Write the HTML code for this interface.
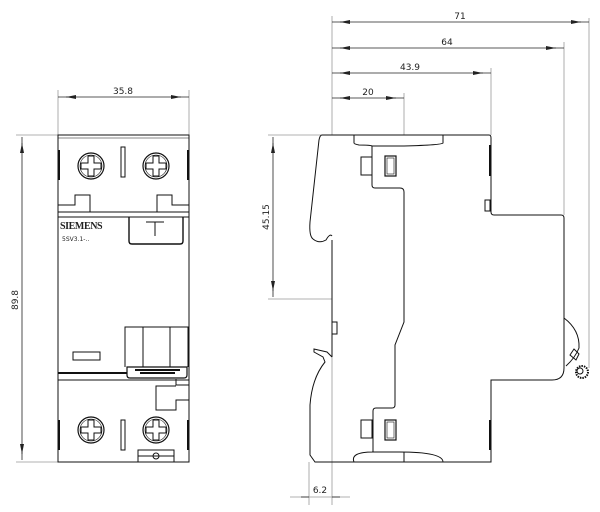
<!DOCTYPE html>
<html><head><meta charset="utf-8"><style>
html,body{margin:0;padding:0;background:#fff;}
svg{display:block;}
text{font-family:"DejaVu Sans","Liberation Sans",sans-serif;font-size:9px;fill:#222;}
</style></head><body>
<svg width="600" height="512" viewBox="0 0 600 512" xmlns="http://www.w3.org/2000/svg">
<defs>
<marker id="a" viewBox="0 0 10 6" refX="0" refY="3" markerWidth="10" markerHeight="6" orient="auto" markerUnits="userSpaceOnUse"><path d="M0,3 L10,1 L10,5 Z" fill="#222"/></marker>
<g id="scr" stroke="#111" fill="none">
<circle r="13" stroke-width="1.2"/><circle r="11" stroke-width="0.6"/>
<path d="M-3,-10 h6 v7 h7 v6 h-7 v7 h-6 v-7 h-7 v-6 h7 z" stroke-width="1"/>
</g>
</defs>
<g fill="none" stroke="#999" stroke-width="0.8">
<line x1="58" y1="90" x2="58" y2="135"/><line x1="189" y1="90" x2="189" y2="135"/>
<line x1="16" y1="135" x2="58" y2="135"/><line x1="16" y1="462" x2="58" y2="462"/>
<line x1="332" y1="16" x2="332" y2="135"/>
<line x1="589" y1="18" x2="589" y2="368"/>
<line x1="564" y1="42" x2="564" y2="215"/>
<line x1="491" y1="68" x2="491" y2="135"/>
<line x1="404" y1="93" x2="404" y2="135"/>
<line x1="268" y1="135" x2="322" y2="135"/>
<line x1="268" y1="299" x2="332" y2="299"/>
<line x1="332" y1="299" x2="332" y2="505"/>
<line x1="309" y1="462" x2="309" y2="505"/>
<line x1="290" y1="497" x2="350" y2="497"/>
</g>
<g stroke="#222" stroke-width="0.8" fill="none">
<line x1="58" y1="97" x2="189" y2="97"/>
<path d="M66,97 L76,97" marker-start="url(#a)"/><path d="M181,97 L171,97" marker-start="url(#a)"/>
<line x1="22" y1="137" x2="22" y2="460"/>
<path d="M22,143 L22,153" marker-start="url(#a)"/><path d="M22,454 L22,444" marker-start="url(#a)"/>
<line x1="332" y1="22" x2="589" y2="22"/><path d="M340,22 L350,22" marker-start="url(#a)"/><path d="M581,22 L571,22" marker-start="url(#a)"/>
<line x1="332" y1="48" x2="564" y2="48"/><path d="M340,48 L350,48" marker-start="url(#a)"/><path d="M556,48 L546,48" marker-start="url(#a)"/>
<line x1="332" y1="73" x2="491" y2="73"/><path d="M340,73 L350,73" marker-start="url(#a)"/><path d="M483,73 L473,73" marker-start="url(#a)"/>
<line x1="332" y1="98" x2="404" y2="98"/><path d="M340,98 L350,98" marker-start="url(#a)"/><path d="M396,98 L386,98" marker-start="url(#a)"/>
<line x1="273" y1="137" x2="273" y2="297"/><path d="M273,143 L273,153" marker-start="url(#a)"/><path d="M273,291 L273,281" marker-start="url(#a)"/>
<path d="M301,497 L309,497"/><path d="M340,497 L332,497"/>
</g>
<text x="123" y="94" text-anchor="middle">35.8</text>
<text x="0" y="0" transform="translate(18,300) rotate(-90)" text-anchor="middle">89.8</text>
<text x="460" y="19" text-anchor="middle">71</text>
<text x="447" y="45" text-anchor="middle">64</text>
<text x="410" y="70" text-anchor="middle">43.9</text>
<text x="368" y="95" text-anchor="middle">20</text>
<text x="0" y="0" transform="translate(269,217) rotate(-90)" text-anchor="middle">45.15</text>
<text x="320" y="493" text-anchor="middle">6.2</text>

<!-- FRONT VIEW -->
<use href="#scr" x="91" y="166"/><use href="#scr" x="156" y="166"/>
<use href="#scr" x="91" y="430"/><use href="#scr" x="156" y="430"/>
<g stroke="#111" stroke-width="1" fill="none">
<rect x="58" y="135" width="131" height="327"/>
<line x1="58" y1="138" x2="189" y2="138" stroke-width="0.6"/>
<rect x="121" y="147" width="4" height="30"/>
<line x1="59" y1="150" x2="59" y2="180" stroke-width="2"/><line x1="188" y1="150" x2="188" y2="180" stroke-width="2"/>
<path d="M58,205 h17 v-10 h15 v17"/><path d="M189,205 h-17 v-10 h-15 v17"/>
<line x1="58" y1="212" x2="189" y2="212"/><line x1="58" y1="217" x2="189" y2="217"/>
<path d="M129,217 v24 q0,3 3,3 h48 q3,0 3,-3 v-24" stroke-width="1.4"/>
<path d="M146,222 h18 M155,222 v14" stroke-width="1"/>
<rect x="73" y="352" width="27" height="8"/>
<path d="M125,367 v-40 h18 v40 M143,327 h27 M170,367 v-40 h18 v40"/>
<rect x="143" y="327" width="27" height="40" stroke-width="0.6"/>
<path d="M127,367 h60 v8 q0,3 -3,3 h-54 q-3,0 -3,-3 z" stroke-width="1.2"/>
<path d="M135,370 h45 M140,373 h35" stroke-width="2"/>
<line x1="58" y1="373" x2="127" y2="373" stroke-width="2"/>
<line x1="58" y1="380" x2="189" y2="380"/>
<path d="M189,385 h-13 v-6 M189,400 h-13 v10 h-20 v-24 h20"/>
<rect x="121" y="420" width="4" height="30"/>
<line x1="59" y1="420" x2="59" y2="450" stroke-width="2"/><line x1="188" y1="420" x2="188" y2="450" stroke-width="2"/>
<path d="M138,462 v-12 h36 v12 M138,456 h36"/><circle cx="156" cy="456" r="3"/>
</g>
<text x="60" y="229" style="font-size:10px;font-family:'Liberation Serif',serif;letter-spacing:-0.4px;font-weight:bold">SIEMENS</text>
<text x="62" y="241" style="font-size:6px">5SV3.1-..</text>

<!-- SIDE VIEW -->
<g stroke="#111" stroke-width="1" fill="none">
<path d="M332,135 H489 q2,0 2,3 V212 q0,3 3,3 H561 q3,0 3,3 V368 q0,12 -12,12 H491 V462 H315 L310,455 V405 Q312,378 325,362 L323,357 L314,352 L314,349 L327,352 L332,357"/>
<path d="M332,240 V357"/>
<path d="M332,135 H322 Q320,135 319,140 L310,222 Q309,236 313,239 Q319,244 326,240 Q330,233 332,236"/>
<path d="M354,135 v8 q0,1 5,2 Q370,145 372,146 h32 Q442,145 443,143 V135"/>
<path d="M372,146 V185 q0,3 3,3 H400 q4,0 4,4 V322 L395,345 V405 q0,3 -3,3 H376 q-3,0 -3,3 V452 M373,452 Q350,452 354,462"/>
<path d="M372,452 h27 Q443,452 443,462"/>
<line x1="404" y1="452" x2="404" y2="462"/>
<rect x="361" y="157" width="11" height="18"/>
<rect x="385" y="156" width="11" height="20" stroke-width="1.2"/><rect x="387" y="158" width="7" height="16" stroke-width="0.6"/>
<rect x="361" y="420" width="11" height="18"/>
<rect x="385" y="420" width="11" height="20" stroke-width="1.2"/><rect x="387" y="422" width="7" height="16" stroke-width="0.6"/>
<rect x="332" y="322" width="5" height="12"/>
<rect x="485" y="200" width="5" height="11"/>
<line x1="490" y1="145" x2="490" y2="176" stroke-width="2"/>
<line x1="490" y1="420" x2="490" y2="450" stroke-width="2"/>
<path d="M564,318 Q580,330 579,348 Q575,358 566,366"/>
<path d="M570,355 l4,-6 l5,5 l-3,6 z"/>
<circle cx="582" cy="372" r="6" stroke-width="2" stroke-dasharray="1.5 1"/>
<circle cx="580" cy="371" r="3"/>
</g>
</svg>
</body></html>
